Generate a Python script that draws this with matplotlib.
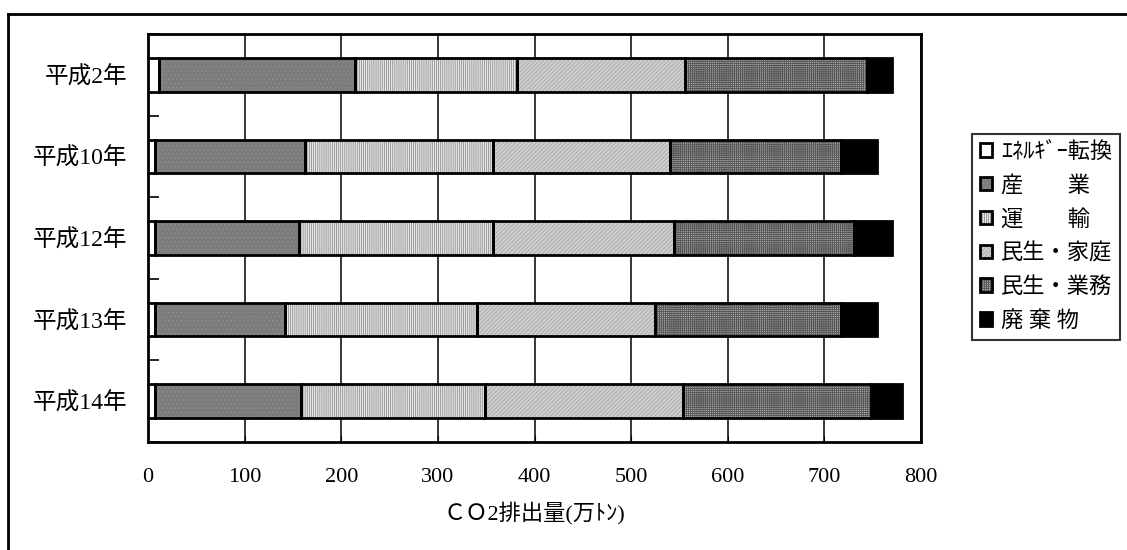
"""
CO2排出量の部門別内訳（横積み上げ棒グラフ）
"""

import numpy as np
import matplotlib.pyplot as plt
from matplotlib.lines import Line2D
from matplotlib.legend_handler import HandlerTuple

plt.rcParams['font.family'] = ['Liberation Serif', 'Noto Sans CJK JP']
plt.rcParams['font.size'] = 16
plt.rcParams['hatch.linewidth'] = 0.6

# ---------- data (万トン) ----------
years = ['平成2年', '平成10年', '平成12年', '平成13年', '平成14年']
sectors = ['ｴﾈﾙｷﾞｰ転換', '産　　業', '運　　輸', '民生・家庭', '民生・業務', '廃 棄 物']

energy = [11, 7, 7, 7, 7]
industry = [203, 155, 149, 135, 151]
transport = [168, 195, 201, 199, 191]
household = [174, 183, 187, 184, 205]
business = [188, 177, 187, 192, 194]
waste = [26, 37, 39, 37, 32]

series = [energy, industry, transport, household, business, waste]

# fill styles: (facecolor, hatch, hatch colour)
styles = [
    ('white', None, 'white'),
    ('#7c7c7c', '....', '#8e8e8e'),
    ('#e6e6e6', '||||||||', '#909090'),
    ('#cfcfcf', '////////', '#a8a8a8'),
    ('#a8a8a8', '++++++++', '#555555'),
    ('black', None, 'black'),
]

fig = plt.figure(figsize=(11.27, 5.5), dpi=100)
ax = fig.add_axes([148 / 1127, 1 - 442 / 550, 773 / 1127, 408 / 550])

y = np.arange(len(years))
left = np.zeros(len(years))
bar_h = 0.41
handles = []
for vals, (fc, hatch, hc) in zip(series, styles):
    vals = np.array(vals, dtype=float)
    # hatched fill first, then a black outline on top
    fill = ax.barh(y, vals, left=left, height=bar_h, color=fc, hatch=hatch,
                   edgecolor=hc, linewidth=0, zorder=3)
    edge = ax.barh(y, vals, left=left, height=bar_h, fill=False,
                   edgecolor='black', linewidth=2, zorder=4)
    handles.append((fill, edge))
    left += vals

# ---------- axes ----------
ax.set_xlim(0, 800)
ax.set_ylim(len(years) - 0.5, -0.5)
ax.set_xticks(np.arange(0, 801, 100))
ax.set_yticks(y)
ax.set_yticklabels(years, fontsize=17)
ax.set_yticks(np.arange(-0.5, len(years), 1.0), minor=True)
ax.tick_params(axis='y', which='major', length=0, pad=15)
ax.tick_params(axis='y', which='minor', direction='in', length=8, width=1.2)
ax.tick_params(axis='x', direction='in', length=4, pad=19)
ax.xaxis.grid(True, color='black', linewidth=1.1, zorder=1)
ax.set_axisbelow(True)
for sp in ax.spines.values():
    sp.set_linewidth(2)
ax.set_xlabel('ＣＯ2排出量(万ﾄﾝ)', labelpad=10)

# ---------- legend ----------
leg = ax.legend(handles, sectors, loc='upper left',
                handler_map={tuple: HandlerTuple(ndivide=1)},
                bbox_to_anchor=(972 / 1127, 1 - 134 / 550),
                bbox_transform=fig.transFigure, frameon=True, fancybox=False,
                handlelength=0.55, handleheight=0.55, handletextpad=0.4,
                labelspacing=0.58, borderpad=0.35, borderaxespad=0,
                fontsize=16)
leg.get_frame().set_edgecolor('black')
leg.get_frame().set_linewidth(1.5)

# outer chart border (top and left visible)
fig.add_artist(Line2D([8 / 1127, 1], [1 - 14 / 550, 1 - 14 / 550],
                      color='black', linewidth=2, transform=fig.transFigure))
fig.add_artist(Line2D([8 / 1127, 8 / 1127], [0, 1 - 14 / 550],
                      color='black', linewidth=2, transform=fig.transFigure))

plt.savefig('out.png', dpi=100)
